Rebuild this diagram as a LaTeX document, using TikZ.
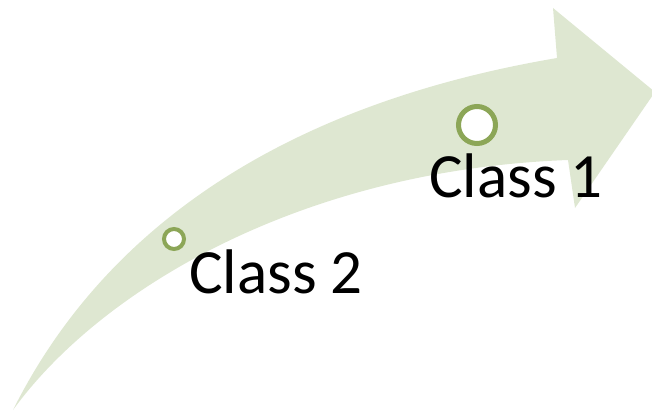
\documentclass[tikz,border=0pt]{standalone}
\usepackage{fontspec}
\setmainfont{Carlito}
\definecolor{bandfill}{HTML}{DEE7D1}
\definecolor{ringgreen}{HTML}{8CA657}
\begin{document}
\begin{tikzpicture}[x=1pt,y=-1pt,
  ring/.style={circle,draw=ringgreen,fill=white,inner sep=0pt},
  classlabel/.style={anchor=base west,inner sep=0pt,font=\fontsize{63}{70}\selectfont}]
\useasboundingbox (0,0) rectangle (652,412);
\clip (0,0) rectangle (652,412);
% curved arrow: head, lower edge back to the tail, upper edge up to the head
\fill[bandfill] (553,8) -- (655,92) -- (575,208) -- (568,160)
  .. controls (300,170) and (100,290) .. (13,410)
  .. controls (103,230) and (280,105) .. (557,58)
  -- cycle;
% milestones
\node[ring,line width=5pt,minimum size=37pt] (m1) at (477,125) {};
\node[ring,line width=4pt,minimum size=20pt] (m2) at (174,239) {};
\node[classlabel] (c1) at (429,197) {Class 1};
\node[classlabel] (c2) at (189,293) {Class 2};
\end{tikzpicture}
\end{document}
